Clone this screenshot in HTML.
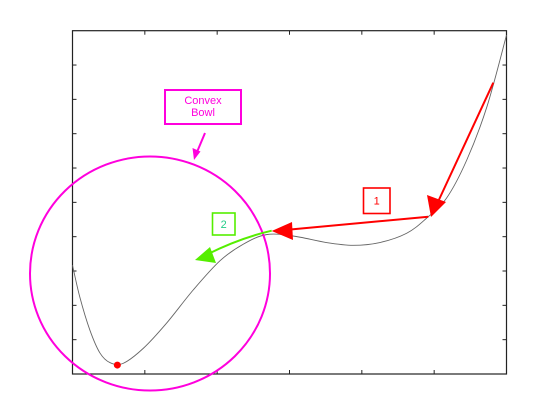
<!DOCTYPE html>
<html><head><meta charset="utf-8"><style>
html,body{margin:0;padding:0;background:#fff;}
svg{display:block;font-family:"Liberation Sans",sans-serif;}
</style></head><body>
<svg id="chart" width="560" height="420" viewBox="0 0 560 420">
<rect x="0" y="0" width="560" height="420" fill="#fff"/>
<g id="ticks"></g>
<rect x="72.5" y="30.7" width="434" height="343.3" fill="none" stroke="#222" stroke-width="1.2"/>
<path id="curve" fill="none" stroke="#666" stroke-width="0.9"/>
<circle id="minpt" r="3.5" fill="#ff0000"/>
<ellipse cx="150" cy="273.5" rx="120" ry="117" fill="none" stroke="#ff00dd" stroke-width="2"/>
<g>
<rect x="165" y="90" width="76" height="34" fill="#fff" stroke="#ff00dd" stroke-width="2"/>
<text x="203" y="104" font-size="11" fill="#ff00dd" text-anchor="middle">Convex</text>
<text x="203" y="116" font-size="11" fill="#ff00dd" text-anchor="middle">Bowl</text>
</g>
<g>
<line x1="205" y1="133" x2="197" y2="152" stroke="#ff00dd" stroke-width="2"/>
<polygon points="194,160 192.5,148 200.5,151.5" fill="#ff00dd"/>
</g>
<g>
<line x1="493.3" y1="82.7" x2="437" y2="204" stroke="#ff0000" stroke-width="2"/>
<polygon points="431,217 427,195 446,202" fill="#ff0000"/>
</g>
<g>
<line x1="428.3" y1="216.7" x2="285" y2="230" stroke="#ff0000" stroke-width="2"/>
<polygon points="271.7,231 292,222 293,240" fill="#ff0000"/>
</g>
<g>
<path d="M271.7,230.7 Q240,238 208,254" fill="none" stroke="#55ee00" stroke-width="2"/>
<polygon points="195,260 210,247 216,263" fill="#55ee00"/>
</g>
<g>
<rect x="363.5" y="188" width="26.5" height="25.5" fill="#fff" stroke="#ff0000" stroke-width="1.6"/>
<text x="376.7" y="204.5" font-size="11" fill="#ff0000" text-anchor="middle">1</text>
</g>
<g>
<rect x="212.5" y="213" width="22.5" height="22" fill="#fff" stroke="#55ee00" stroke-width="1.6"/>
<text x="223.7" y="228" font-size="11" fill="#22cc88" text-anchor="middle">2</text>
</g>
</svg>
<script>
const curveX=[0,0.1,0.24,0.38,0.52,0.70,0.98,1.30,1.67,2.04,2.36,2.68,3.05,3.51,3.88,4.25,4.62,4.89,5.17,5.45,5.73,6.0];
const curveY=[3.17,2.25,1.28,0.61,0.33,0.31,0.75,1.48,2.45,3.30,3.78,4.06,4.02,3.83,3.75,3.83,4.10,4.53,5.12,6.23,7.79,9.87];
const minX=[0.62];
const minY=[0.26];
const xTicks=[1,2,3,4,5];
const yTicks=[1,2,3,4,5,6,7,8,9];
const L=72.5,R=506.5,T=30.7,B=374;
function sx(v){return L+(v-0)/6*(R-L);}
function sy(v){return B-(v-0)/10*(B-T);}
const ns="http://www.w3.org/2000/svg";
const tg=document.getElementById('ticks');
function ln(x1,y1,x2,y2,name){const l=document.createElementNS(ns,'line');
l.setAttribute('x1',x1);l.setAttribute('y1',y1);l.setAttribute('x2',x2);l.setAttribute('y2',y2);
l.setAttribute('stroke','#222');l.setAttribute('stroke-width','1');


tg.appendChild(l);}
xTicks.forEach(v=>{const x=sx(v);ln(x,B,x,B-4,'x-tick');ln(x,T,x,T+4,'x-tick-top');});
yTicks.forEach(v=>{const y=sy(v);ln(L,y,L+4,y,'y-tick');ln(R,y,R-4,y,'y-tick-right');});
const pts=curveX.map((x,i)=>[sx(x),sy(curveY[i])]);
let d='M'+pts[0][0]+','+pts[0][1];
for(let i=0;i<pts.length-1;i++){const p0=pts[i-1]||pts[i],p1=pts[i],p2=pts[i+1],p3=pts[i+2]||p2;
const c1=[p1[0]+(p2[0]-p0[0])/6,p1[1]+(p2[1]-p0[1])/6],c2=[p2[0]-(p3[0]-p1[0])/6,p2[1]-(p3[1]-p1[1])/6];
d+=' C'+c1+' '+c2+' '+p2;}
document.getElementById('curve').setAttribute('d',d);
const m=document.getElementById('minpt');m.setAttribute('cx',sx(minX[0]));m.setAttribute('cy',sy(minY[0]));
</script>
</body></html>
